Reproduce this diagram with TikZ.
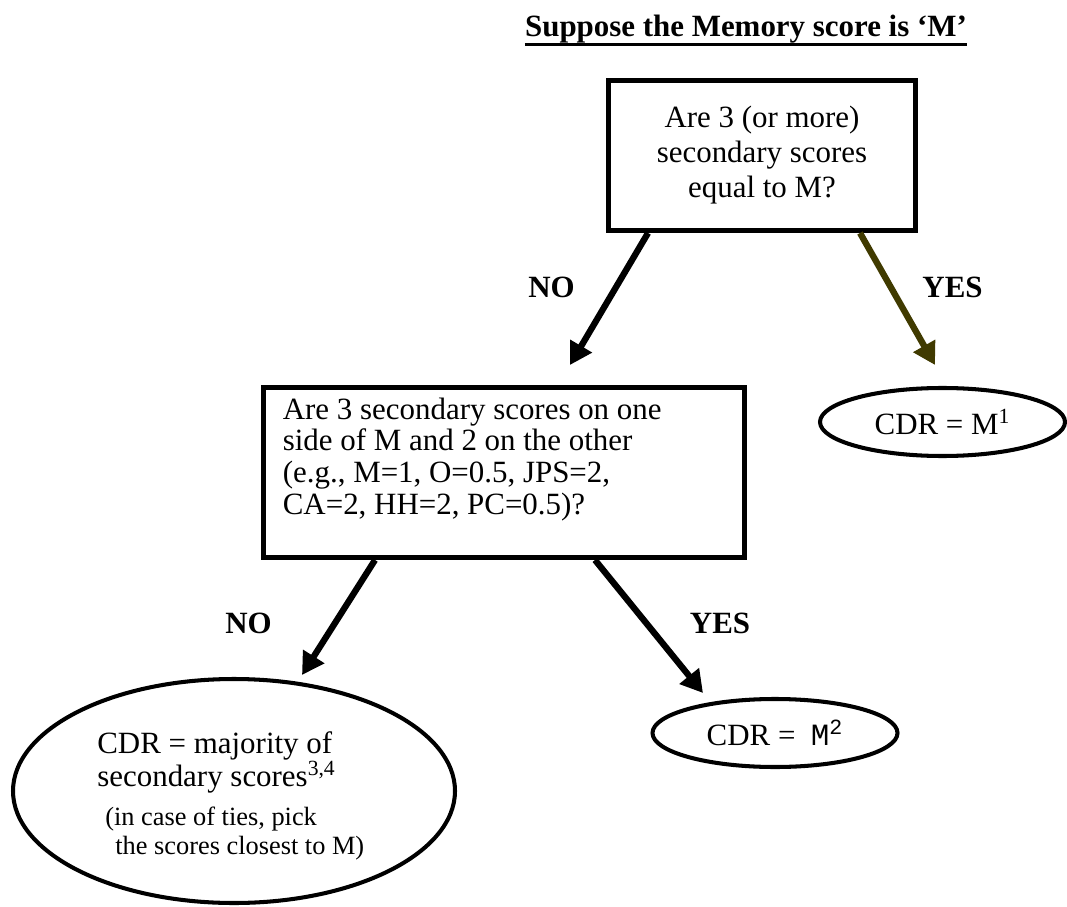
\documentclass[tikz,border=0pt]{standalone}
\usepackage{fontspec}
\setmainfont{Liberation Serif}
\setmonofont{Liberation Mono}
\usepackage{xcolor}
\usetikzlibrary{shapes.geometric, arrows.meta, positioning}
\definecolor{darkolive}{RGB}{64,58,0}
\newcommand{\mainsize}{\fontsize{17.6}{19.9}\selectfont}

\begin{document}
\begin{tikzpicture}[
    qbox/.style={rectangle, draw, line width=2.85pt, font=\mainsize, inner sep=0pt},
    outcome/.style={ellipse, draw, line width=2.3pt, minimum width=4.9cm, minimum height=1.36cm, font=\mainsize, inner sep=0pt},
    branch/.style={-{Triangle[length=0.44cm, width=0.48cm]}, line width=3.6pt},
    lbl/.style={font=\mainsize\bfseries, inner sep=0pt, anchor=base}
]
    \useasboundingbox (0,0) rectangle (21.34,-18.14);

    % Title
    \node[lbl] (title) at (14.92,-0.74) {Suppose the Memory score is `M'};
    \draw[line width=0.06cm] ([yshift=-0.16cm]title.base west) -- ([yshift=-0.16cm]title.base east);

    % Questions
    \node[qbox, minimum width=6.14cm, minimum height=3.0cm, align=center] (q1) at (15.24,-3.11) {Are 3 (or more)\\secondary scores\\equal to M?};
    \node[qbox, minimum width=9.62cm, minimum height=3.4cm] (q2) at (10.08,-9.45) {};
    \node[anchor=north west, align=left, inner sep=0pt, font=\fontsize{17.6}{18}\selectfont] (q2text) at ([xshift=0.43cm, yshift=-0.25cm]q2.north west) {Are 3 secondary scores on one\\side of M and 2 on the other\\(e.g., M=1, O=0.5, JPS=2,\\CA=2, HH=2, PC=0.5)?};

    % Outcomes
    \node[outcome] (cdr1) at (18.85,-8.44) {CDR = M\textsuperscript{1}};
    \node[outcome] (cdr2) at (15.5,-14.66) {CDR =\ \ \texttt{M\textsuperscript{2}}};
    \node[outcome, minimum width=8.84cm, minimum height=4.48cm] (cdr3) at (4.68,-15.82) {};
    \node[anchor=north west, align=left, inner sep=0pt, font=\fontsize{17.6}{18.8}\selectfont] (cdr3main) at (1.94,-14.62) {CDR = majority of\\secondary scores\textsuperscript{3,4}};
    \node[anchor=north west, align=left, inner sep=0pt, font=\fontsize{15}{16.5}\selectfont] (cdr3note) at ([xshift=0.16cm, yshift=-0.26cm]cdr3main.south west) {(in case of ties, pick\\\hspace*{0.2cm}the scores closest to M)};

    % Branches
    \coordinate (tipA) at (11.4,-7.3);
    \coordinate (tipB) at (18.7,-7.3);
    \coordinate (tipC) at (6.04,-13.5);
    \coordinate (tipD) at (14.06,-13.86);
    \draw[branch] ([xshift=-2.28cm]q1.south) -- (tipA);
    \draw[branch, darkolive] ([xshift=1.96cm]q1.south) -- (tipB);
    \draw[branch] ([xshift=-2.58cm]q2.south) -- (tipC);
    \draw[branch] ([xshift=1.82cm]q2.south) -- (tipD);

    % Labels
    \node[lbl] (no1) at (11.03,-5.96) {NO};
    \node[lbl] (yes1) at (19.05,-5.96) {YES};
    \node[lbl] (no2) at (4.97,-12.66) {NO};
    \node[lbl] (yes2) at (14.4,-12.66) {YES};
\end{tikzpicture}
\end{document}
